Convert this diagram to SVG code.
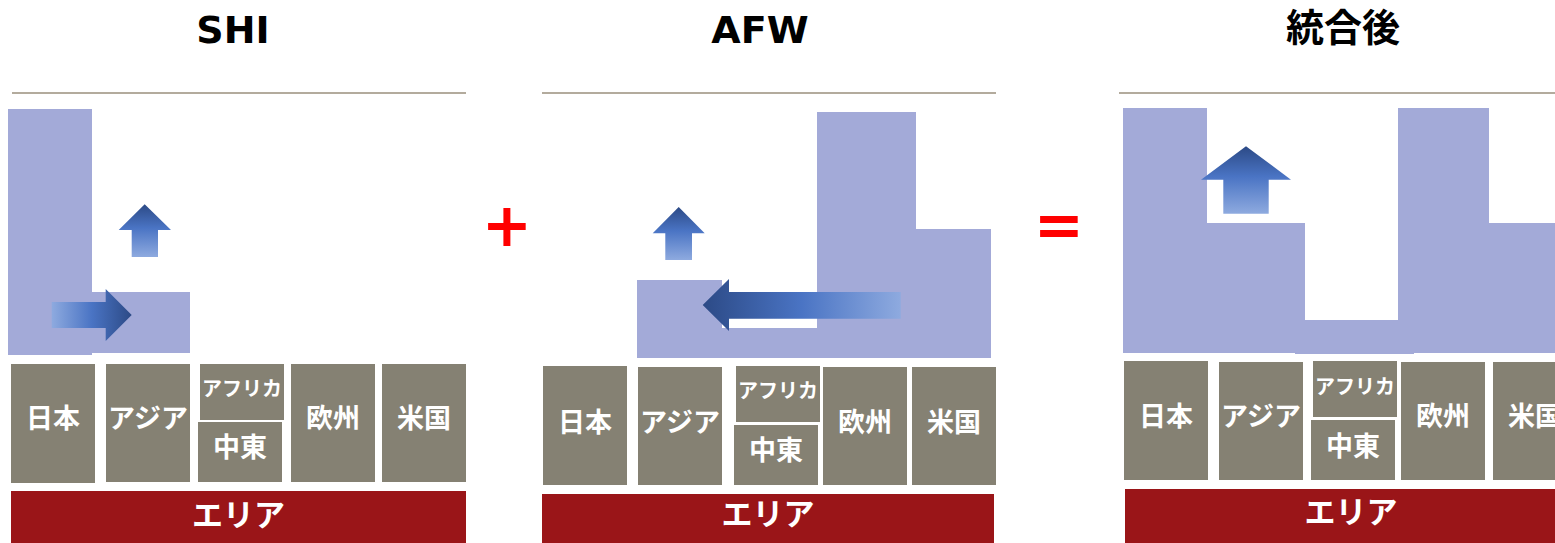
<svg xmlns="http://www.w3.org/2000/svg" width="1555" height="543" viewBox="0 0 1555 543">
<style>
.title{font-family:"DejaVu Sans","Noto Sans CJK JP",sans-serif;font-weight:bold;font-size:38px;fill:#000;text-anchor:middle}
.titlej{font-family:"Noto Sans CJK JP",sans-serif;font-weight:bold;font-size:38px;fill:#000;text-anchor:middle}
.rule{stroke:#b3ab9d;stroke-width:2}
.vol{fill:#a3aad8}
.box{fill:#858173}
.bar{fill:#9a1518}
.lbl{font-family:"Noto Sans CJK JP",sans-serif;font-weight:bold;fill:#fff;text-anchor:middle;font-size:27px}
.sm{font-size:20px}
.area{font-size:31px}
.op{font-family:"DejaVu Sans",sans-serif;font-weight:bold;fill:#ff0000;text-anchor:middle;font-size:60px}
</style>
<defs>
<linearGradient id="gUp" x1="0" y1="0" x2="0" y2="1">
<stop offset="0" stop-color="#2c4a86"/><stop offset="0.45" stop-color="#4a74c4"/><stop offset="1" stop-color="#8eaadf"/>
</linearGradient>
<linearGradient id="gRight" x1="0" y1="0" x2="1" y2="0">
<stop offset="0" stop-color="#8eaadf"/><stop offset="0.5" stop-color="#4a74c4"/><stop offset="1" stop-color="#2c4a86"/>
</linearGradient>
<linearGradient id="gLeft" x1="0" y1="0" x2="1" y2="0">
<stop offset="0" stop-color="#2c4a86"/><stop offset="0.5" stop-color="#4a74c4"/><stop offset="1" stop-color="#8eaadf"/>
</linearGradient>
</defs>
<rect width="1555" height="543" fill="#fff"/>

<!-- Panel SHI -->
<g id="shi">
<text class="title" x="233" y="43">SHI</text>
<line class="rule" x1="12" y1="93" x2="466" y2="93"/>
<g id="shi-volume">
<rect class="vol" x="8" y="109" width="84" height="246"/>
<rect class="vol" x="92" y="292" width="98" height="61"/>
</g>
<g id="shi-arrows">
<polygon fill="url(#gUp)" points="144.7,204.3 171,230 158,230 158,257 131.7,257 131.7,230 118.7,230"/>
<polygon fill="url(#gRight)" points="51.7,302 105.7,302 105.7,289 131.7,315 105.7,341 105.7,328 51.7,328"/>
</g>
<g id="shi-japan"><rect class="box" x="11" y="364" width="84" height="119"/><text class="lbl" x="53" y="428">日本</text></g>
<g id="shi-asia"><rect class="box" x="106" y="364" width="84" height="118"/><text class="lbl" x="148" y="428">アジア</text></g>
<g id="shi-africa"><rect class="box" x="200" y="364" width="84" height="56"/><text class="lbl sm" x="242" y="396">アフリカ</text></g>
<g id="shi-mideast"><rect class="box" x="198" y="422" width="84" height="60"/><text class="lbl" x="240" y="457">中東</text></g>
<g id="shi-europe"><rect class="box" x="291" y="364" width="84" height="118"/><text class="lbl" x="333" y="428">欧州</text></g>
<g id="shi-us"><rect class="box" x="382" y="364" width="84" height="118"/><text class="lbl" x="424" y="428">米国</text></g>
<g id="shi-area"><rect class="bar" x="11" y="491" width="455" height="52"/><text class="lbl area" x="238.5" y="526">エリア</text></g>
</g>

<text id="plus" class="op" x="507" y="246">+</text>

<!-- Panel AFW -->
<g id="afw">
<text class="title" x="760" y="43">AFW</text>
<line class="rule" x1="542" y1="93" x2="996" y2="93"/>
<g id="afw-volume">
<polygon class="vol" points="637,280 722,280 722,328 817,328 817,112 916,112 916,229 991,229 991,358 637,358"/>
</g>
<g id="afw-arrows">
<polygon fill="url(#gUp)" points="678.7,207 704.7,233.3 692,233.3 692,260 665.3,260 665.3,233.3 652.7,233.3"/>
<polygon fill="url(#gLeft)" points="702.7,305 729,279 729,292 900.7,292 900.7,318.7 729,318.7 729,331"/>
</g>
<g id="afw-japan"><rect class="box" x="543" y="366" width="84" height="119"/><text class="lbl" x="585" y="432">日本</text></g>
<g id="afw-asia"><rect class="box" x="638" y="367" width="84" height="118"/><text class="lbl" x="680" y="432">アジア</text></g>
<g id="afw-africa"><rect class="box" x="736" y="366" width="84" height="56"/><text class="lbl sm" x="778" y="398">アフリカ</text></g>
<g id="afw-mideast"><rect class="box" x="734" y="425" width="84" height="60"/><text class="lbl" x="776" y="460">中東</text></g>
<g id="afw-europe"><rect class="box" x="823" y="367" width="84" height="118"/><text class="lbl" x="865" y="432">欧州</text></g>
<g id="afw-us"><rect class="box" x="912" y="367" width="84" height="118"/><text class="lbl" x="954" y="432">米国</text></g>
<g id="afw-area"><rect class="bar" x="542" y="494" width="452" height="49"/><text class="lbl area" x="768" y="525">エリア</text></g>
</g>

<text id="equals" class="op" x="1059" y="246">=</text>

<!-- Panel merged -->
<g id="merged">
<text class="titlej" x="1343" y="41">統合後</text>
<line class="rule" x1="1119" y1="93" x2="1555" y2="93"/>
<g id="merged-volume">
<rect class="vol" x="1123" y="108" width="84" height="245"/>
<rect class="vol" x="1207" y="223" width="98" height="130"/>
<rect class="vol" x="1295" y="320" width="119" height="34"/>
<rect class="vol" x="1398" y="108" width="91" height="245"/>
<rect class="vol" x="1489" y="223" width="66" height="130"/>
</g>
<g id="merged-arrows">
<polygon fill="url(#gUp)" points="1246,146.3 1291,179.7 1268.7,179.7 1268.7,213.7 1223.3,213.7 1223.3,179.7 1201,179.7"/>
</g>
<g id="merged-japan"><rect class="box" x="1124" y="361" width="84" height="119"/><text class="lbl" x="1166" y="426">日本</text></g>
<g id="merged-asia"><rect class="box" x="1219" y="362" width="84" height="118"/><text class="lbl" x="1261" y="426">アジア</text></g>
<g id="merged-africa"><rect class="box" x="1313" y="361" width="84" height="56"/><text class="lbl sm" x="1355" y="394">アフリカ</text></g>
<g id="merged-mideast"><rect class="box" x="1311" y="420" width="84" height="60"/><text class="lbl" x="1353" y="456">中東</text></g>
<g id="merged-europe"><rect class="box" x="1401" y="362" width="84" height="118"/><text class="lbl" x="1443" y="426">欧州</text></g>
<g id="merged-us"><rect class="box" x="1493" y="362" width="84" height="118"/><text class="lbl" x="1535" y="426">米国</text></g>
<g id="merged-area"><rect class="bar" x="1125" y="489" width="430" height="54"/><text class="lbl area" x="1351" y="523">エリア</text></g>
</g>
</svg>
